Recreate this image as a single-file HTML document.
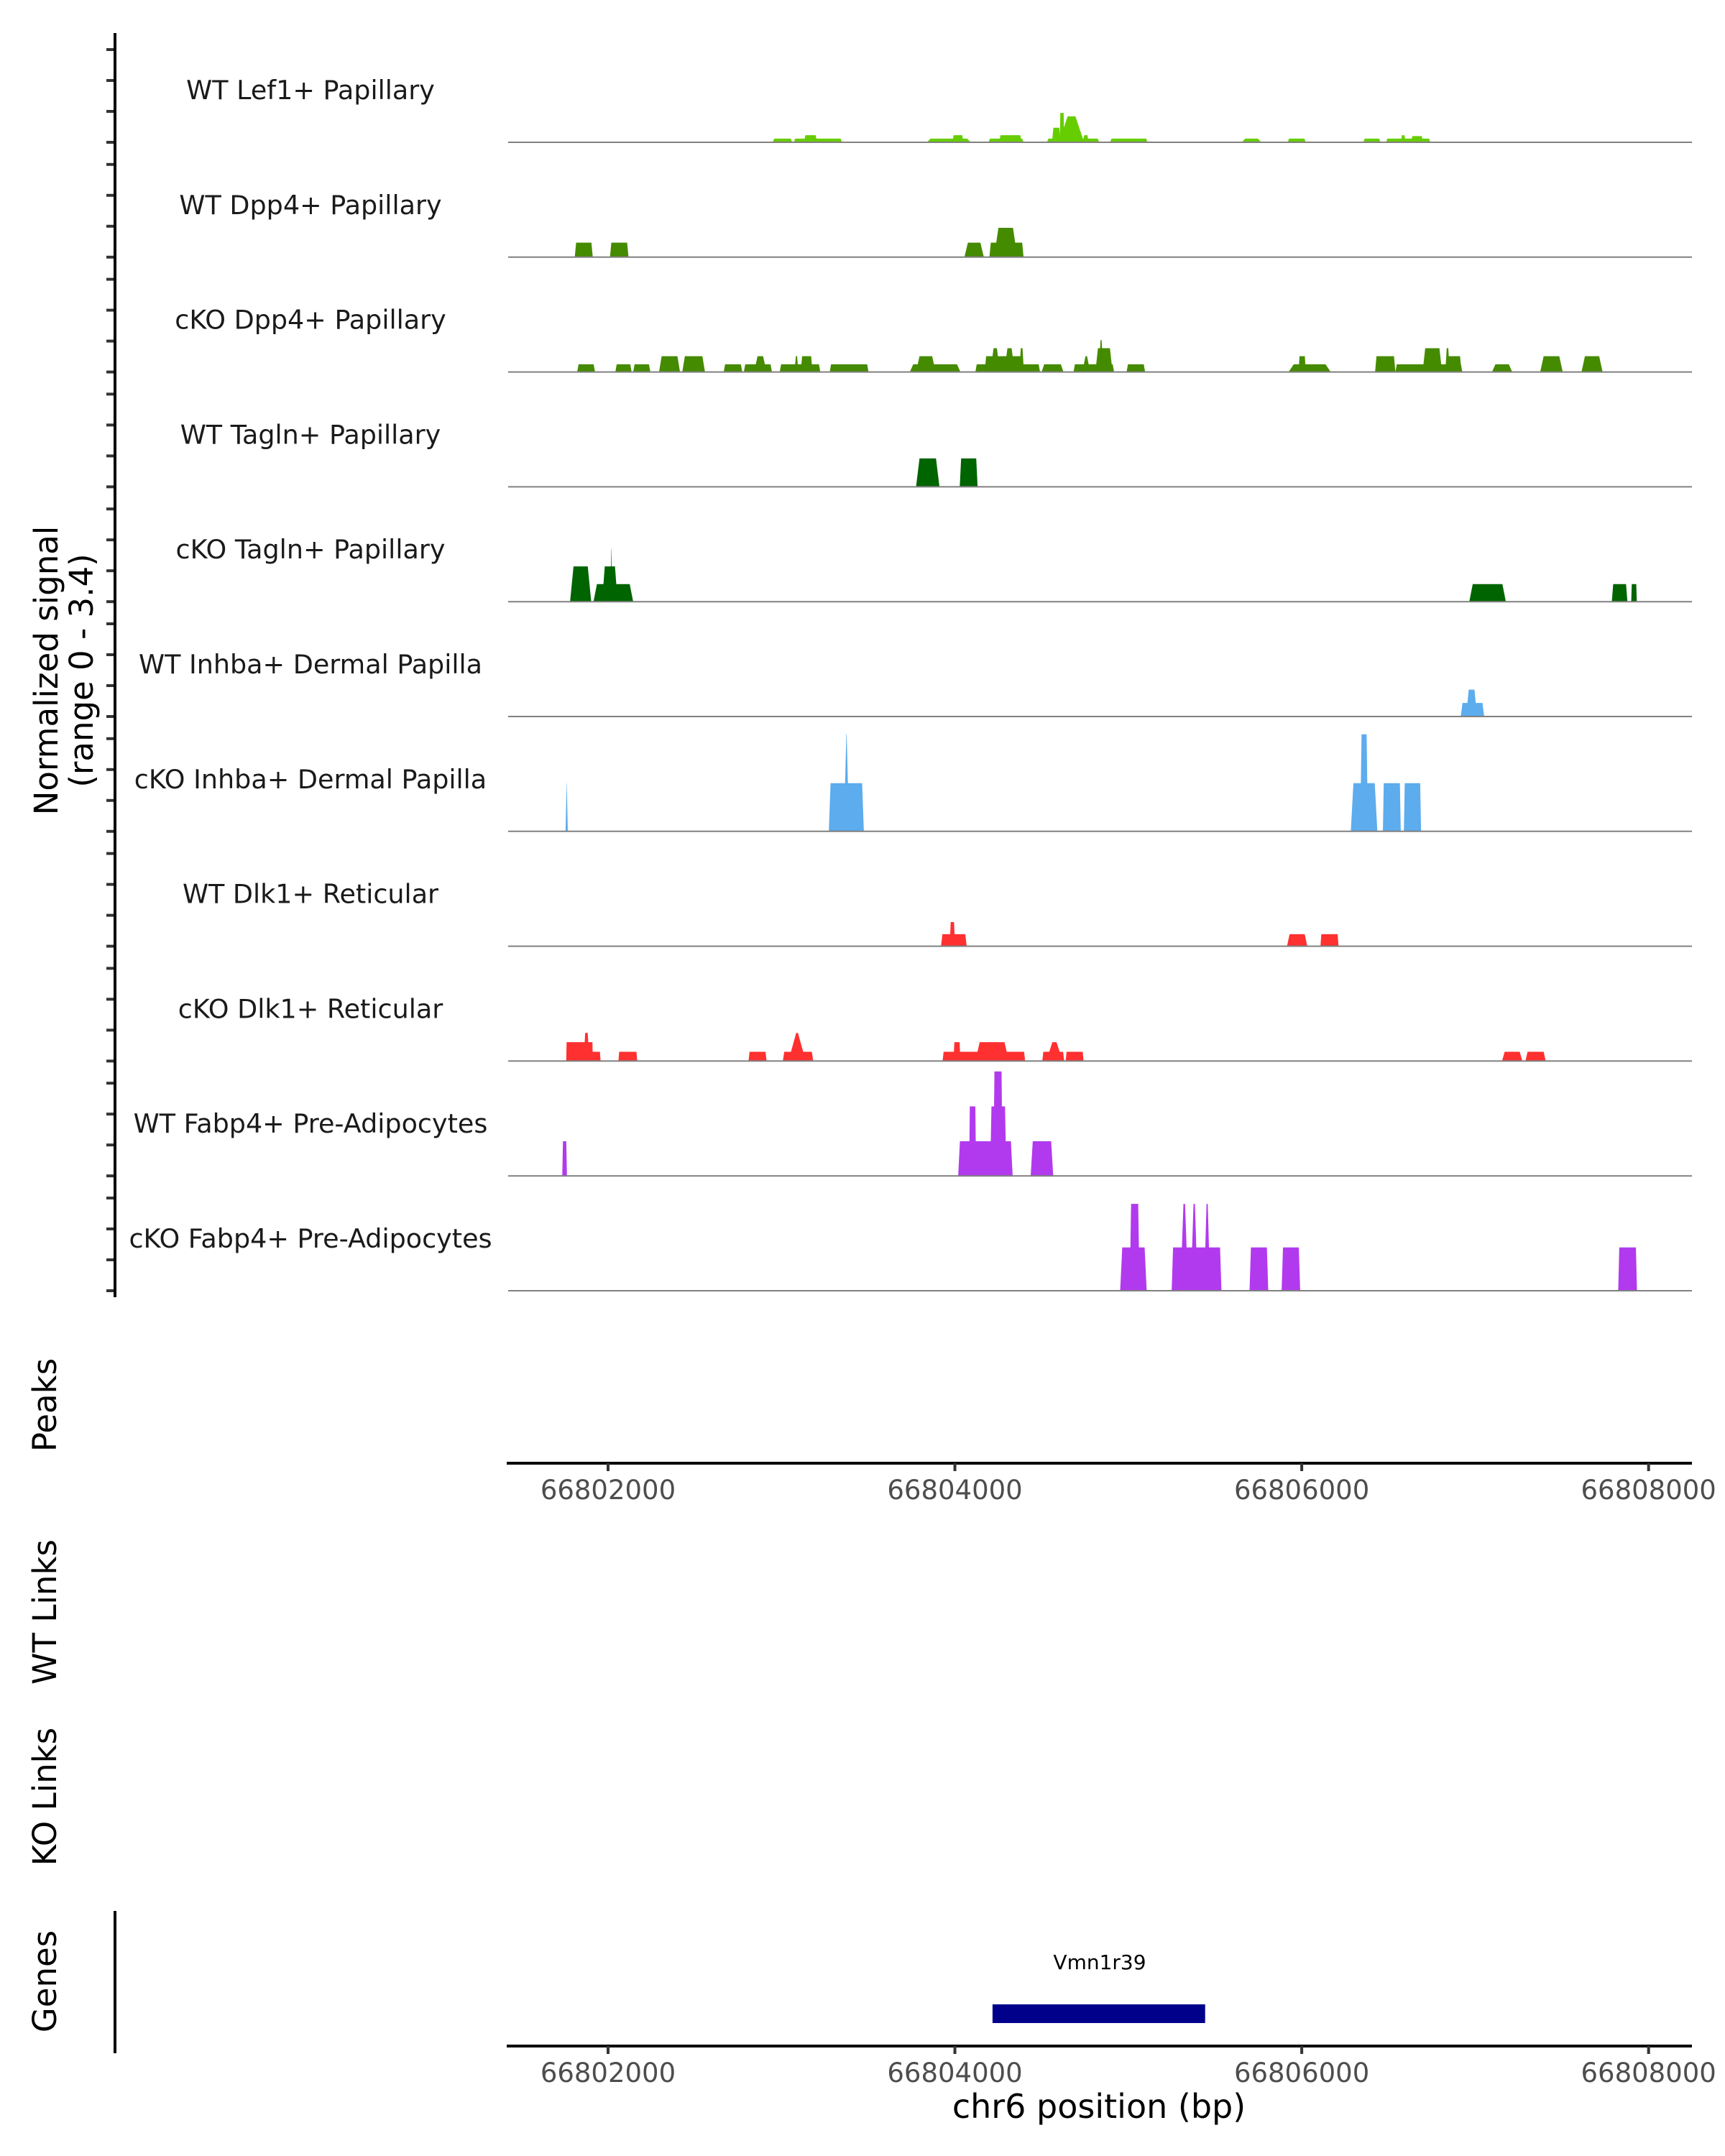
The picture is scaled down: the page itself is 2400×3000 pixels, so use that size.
<!DOCTYPE html>
<html><head><meta charset="utf-8"><style>
html,body{margin:0;padding:0;background:#fff;}
svg{display:block;font-family:"DejaVu Sans","Liberation Sans",sans-serif;}
</style></head><body>
<svg id="chart" width="2400" height="3000" viewBox="0 0 2400 3000" xmlns="http://www.w3.org/2000/svg">
<g id="tracks"></g>
<g id="axes"></g>
<text transform="translate(80,933) rotate(-90)" text-anchor="middle" font-size="45" fill="#000">Normalized signal</text>
<text transform="translate(129,933) rotate(-90)" text-anchor="middle" font-size="45" fill="#000">(range 0 - 3.4)</text>
<text transform="translate(78,1955) rotate(-90)" text-anchor="middle" font-size="45" fill="#000">Peaks</text>
<text transform="translate(78,2243) rotate(-90)" text-anchor="middle" font-size="45" fill="#000">WT Links</text>
<text transform="translate(78,2500) rotate(-90)" text-anchor="middle" font-size="45" fill="#000">KO Links</text>
<text transform="translate(78,2757) rotate(-90)" text-anchor="middle" font-size="45" fill="#000">Genes</text>
<line x1="160" y1="2659" x2="160" y2="2857" stroke="#000" stroke-width="4"/>
<text x="1530" y="2740" text-anchor="middle" font-size="28" fill="#000">Vmn1r39</text>
<text x="1529" y="2947" text-anchor="middle" font-size="46" fill="#000">chr6 position (bp)</text>
</svg>
<script>
const chromOrigin = 66800000;
const trackNames = ["WT Lef1+ Papillary","WT Dpp4+ Papillary","cKO Dpp4+ Papillary","WT Tagln+ Papillary","cKO Tagln+ Papillary","WT Inhba+ Dermal Papilla","cKO Inhba+ Dermal Papilla","WT Dlk1+ Reticular","cKO Dlk1+ Reticular","WT Fabp4+ Pre-Adipocytes","cKO Fabp4+ Pre-Adipocytes"];
const trackColors = ["#66cd00","#458b00","#458b00","#006400","#006400","#5cacee","#5cacee","#ff3030","#ff3030","#b23aee","#b23aee"];
// blocks: [startOffsetBp, endOffsetBp, value, slopeBp?]
const lef1WT = [[2950,3062,.12],[3071,3349,.12],[3130,3205,.23],[3839,4091,.12,20],[3985,4050,.23],[4194,4396,.12],[4255,4385,.23],[4531,4832,.12],[4560,4610,.47],[4600,4745,.84,50],[4605,4630,.95,3],[4738,4772,.23],[4895,5111,.12],[5654,5767,.12,20],[5919,6023,.12],[6355,6454,.12],[6486,6742,.12],[6570,6600,.23],[6630,6700,.2]];
const dpp4WT = [[1808,1912,.47],[2011,2118,.47],[4055,4167,.47,20],[4199,4396,.47],[4226,4360,.95,25]];
const dpp4KO = [[1822,1925,.25],[2042,2136,.25],[2145,2244,.25],[2294,2415,.51,15],[2428,2559,.51,15],[2667,2774,.25],[2783,2945,.25],[2842,2914,.51,20],[2990,3224,.25],[3075,3098,.51,8],[3111,3179,.51],[3278,3502,.25],[3740,4032,.25,20],[3776,3889,.51,20],[4118,4491,.25],[4172,4396,.51],[4205,4260,.77,18],[4285,4345,.77,18],[4372,4398,.77,8],[4500,4626,.25,15],[4684,4918,.25],[4735,4780,.51,18],[4810,4909,.77,15],[4830,4856,1.03,10],[4990,5097,.25],[5924,6167,.25,30],[5982,6023,.51,5],[6423,6540,.51],[6540,6926,.25],[6697,6809,.77,15],[6831,6921,.51],[6828,6853,.77,8],[7097,7214,.25,20],[7375,7505,.51,20],[7613,7735,.51,20]];
const taglnWT = [[3776,3911,.92,20],[4028,4131,.92,8]];
const taglnKO = [[1781,1903,1.14,20],[1916,2145,.57,20],[1966,2055,1.14,15],[2015,2024,1.71,4],[6966,7177,.57,20],[7788,7878,.57,8],[7900,7932,.57,3]];
const inhbaWT = [[6917,7052,.44,10],[6948,7011,.87,15]];
const inhbaKO = [[1755,1768,1.56,6],[3273,3475,1.56,10],[3360,3390,3.14,14],[6283,6436,1.56,15],[6337,6382,3.14,8],[6468,6571,1.56,5],[6589,6688,1.56,5]];
const dlk1WT = [[3920,4068,.39,8],[3970,4001,.78,6],[5915,6032,.39,15],[6108,6212,.39,5]];
const dlk1KO = [[1759,1957,.30,4],[1759,1912,.61,2],[1860,1891,.91,8],[2060,2168,.30,4],[2810,2914,.30,6],[3008,3183,.30,8],[3040,3140,.91,45],[3929,4405,.30,6],[3992,4032,.61,5],[4118,4311,.61,25],[4504,4630,.30,6],[4527,4621,.61,35],[4639,4742,.30,5],[7155,7272,.30,15],[7290,7407,.30,12]];
const fabp4WT = [[1736,1763,1.12,4],[4019,4333,1.12,10],[4082,4122,2.25,4],[4203,4297,2.25,8],[4222,4275,3.38,6],[4437,4567,1.12,12]];
const fabp4KO = [[4953,5106,1.40,12],[5008,5065,2.81,8],[5250,5537,1.40,8],[5300,5345,2.81,18],[5360,5400,2.81,16],[5437,5472,2.81,14],[5699,5807,1.40,8],[5884,5991,1.40,8],[7825,7933,1.40,6]];
const trackData = [lef1WT,dpp4WT,dpp4KO,taglnWT,taglnKO,inhbaWT,inhbaKO,dlk1WT,dlk1KO,fabp4WT,fabp4KO];
const yTicks = [0,1,2,3];
const xTicks = [66802000,66804000,66806000,66808000];
const geneStart = 66804217, geneEnd = 66805443;

const NS = "http://www.w3.org/2000/svg";
const xMinBp = 66801424, xMaxBp = 66808250;
const X0 = 707, X1 = 2354;
function xs(bp){ return X0 + (bp - xMinBp) * (X1 - X0) / (xMaxBp - xMinBp); }
function baseY(i){ return 198 + i * 159.8; }
function ys(i, v){ return baseY(i) - v * 43; }
function mk(tag, attrs, parent){ const e = document.createElementNS(NS, tag); for (const k in attrs) e.setAttribute(k, attrs[k]); parent.appendChild(e); return e; }

const tracks = document.getElementById('tracks');
const axes = document.getElementById('axes');

trackData.forEach((blocks, i) => {
  const g = mk('g', {}, tracks);
  
  
  blocks.forEach(b => {
    const s = chromOrigin + b[0], e = chromOrigin + b[1], v = b[2], sl = b.length > 3 ? b[3] : 8;
    const pts = [[xs(s), baseY(i)], [xs(s + sl), ys(i, v)], [xs(e - sl), ys(i, v)], [xs(e), baseY(i)]].map(p => p.join(',')).join(' ');
    const p = mk('polygon', {points: pts, fill: trackColors[i]}, g);
    
    
  });
  const bl = mk('line', {x1: X0, x2: X1, y1: baseY(i), y2: baseY(i), stroke: '#808080', 'stroke-width': 2}, g);
  
  
  const t = mk('text', {x: 432, y: baseY(i) - 60, 'text-anchor': 'middle', 'font-size': 36.5, fill: '#1a1a1a'}, g);
  t.textContent = trackNames[i];
  
  
  yTicks.forEach(v => {
    const tk = mk('line', {x1: 148, x2: 160, y1: ys(i, v), y2: ys(i, v), stroke: '#333', 'stroke-width': 4}, axes);
    
    
  });
});
const ya = mk('line', {x1: 160, x2: 160, y1: 46, y2: 1805, stroke: '#000', 'stroke-width': 4}, axes);



[2036, 2847].forEach((ay, k) => {
  const l = mk('line', {x1: 705, x2: 2354, y1: ay, y2: ay, stroke: '#000', 'stroke-width': 4}, axes);
  
  
  xTicks.forEach(v => {
    const tk = mk('line', {x1: xs(v), x2: xs(v), y1: ay, y2: ay + 11, stroke: '#333', 'stroke-width': 4}, axes);
    
    
    const tl = mk('text', {x: xs(v), y: ay + 50, 'text-anchor': 'middle', 'font-size': 37, fill: '#4d4d4d'}, axes);
    tl.textContent = String(v);
    
    
  });
});

const gene = mk('rect', {x: xs(geneStart), y: 2789, width: xs(geneEnd) - xs(geneStart), height: 26, fill: '#00008b'}, axes);


</script>
</body></html>
